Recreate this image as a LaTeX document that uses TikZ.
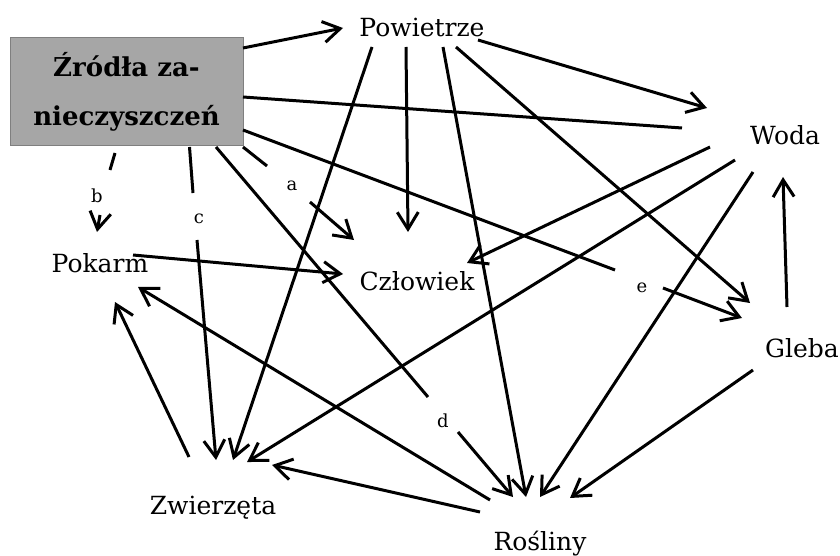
\documentclass[tikz,border=0pt]{standalone}
\usepackage{fontspec}
\setmainfont{DejaVu Serif}
\usetikzlibrary{arrows.meta,calc}
\definecolor{boxfill}{HTML}{A6A6A6}
\definecolor{boxborder}{HTML}{7F7F7F}
\begin{document}
\begin{tikzpicture}[x=1pt,y=-1pt,
  lab/.style={inner sep=0pt, anchor=base, font=\fontsize{25}{30}\selectfont},
  small/.style={inner sep=0pt, anchor=base, font=\fontsize{18}{20}\selectfont},
  conn/.style={line width=3pt},
  arr/.style={conn, -{Straight Barb[length=17pt,width=21pt]}}
]
\useasboundingbox (0,0) rectangle (840,556);
\node[draw=boxborder, fill=boxfill, line width=1pt, minimum width=233pt, minimum height=108pt,
  inner sep=0pt, align=center, font=\bfseries\fontsize{26}{49}\selectfont] (src) at (126.5,92) {Źródła za-\\nieczyszczeń};
\node[lab] (pw) at (422,37) {Powietrze};
\node[lab] (wo) at (785,145) {Woda};
\node[lab] (gl) at (802,357) {Gleba};
\node[lab] (ro) at (540,550) {Rośliny};
\node[lab] (zw) at (213,514) {Zwierzęta};
\node[lab] (po) at (100,272) {Pokarm};
\node[lab] (cz) at (417,290) {Człowiek};
\node[small] (la) at (292,190) {a};
\node[small] (lb) at (97,202) {b};
\node[small] (lc) at (199,223) {c};
\node[small] (ld) at (443,427) {d};
\node[small] (le) at (642,292) {e};
% from source
\draw[arr] ($(src.center)+(116.5,-44)$) -- ($(pw.base)+(-79,-9)$);
\draw[conn] ($(src.center)+(116.5,5)$) -- ($(wo.base)+(-103,-17)$);
\draw[conn] ($(src.center)+(116.5,38)$) -- ($(le.base)+(-27,-22)$);
\draw[arr] ($(le.base)+(21,-4)$) -- ($(gl.base)+(-60,-39)$);
\draw[conn] ($(src.center)+(116.5,55)$) -- ($(la.base)+(-25,-24)$);
\draw[arr] ($(la.base)+(18,12)$) -- ($(cz.base)+(-63,-50)$);
\draw[conn] ($(src.center)+(89.5,55)$) -- ($(ld.base)+(-15,-30)$);
\draw[arr] ($(ld.base)+(15,5)$) -- ($(ro.base)+(-27,-53)$);
\draw[conn] ($(src.center)+(63,55)$) -- ($(lc.base)+(-6,-30)$);
\draw[arr] ($(lc.base)+(-2,17)$) -- ($(zw.base)+(3,-54)$);
\draw[conn] ($(src.center)+(-11.5,61)$) -- ($(lb.base)+(13,-32)$);
\draw[arr] ($(lb.base)+(3,13)$) -- ($(po.base)+(-3,-40)$);
% from Powietrze
\draw[arr] ($(pw.base)+(56,3)$) -- ($(wo.base)+(-78,-37)$);
\draw[arr] ($(pw.base)+(-16,10)$) -- ($(cz.base)+(-9,-58)$);
\draw[arr] ($(pw.base)+(-50,10)$) -- ($(zw.base)+(20,-54)$);
\draw[arr] ($(pw.base)+(21,10)$) -- ($(ro.base)+(-14,-53)$);
\draw[arr] ($(pw.base)+(34,10)$) -- ($(gl.base)+(-52,-54)$);
% from Woda
\draw[arr] ($(wo.base)+(-75,2)$) -- ($(cz.base)+(50,-27)$);
\draw[arr] ($(wo.base)+(-50,15)$) -- ($(zw.base)+(34,-52)$);
\draw[arr] ($(wo.base)+(-32,27)$) -- ($(ro.base)+(0,-53)$);
% from Gleba
\draw[arr] ($(gl.base)+(-15,-50)$) -- ($(wo.base)+(-2,32)$);
\draw[arr] ($(gl.base)+(-49,13)$) -- ($(ro.base)+(30,-52)$);
% others
\draw[arr] ($(po.base)+(33,-17)$) -- ($(cz.base)+(-74,-16)$);
\draw[arr] ($(zw.base)+(-24,-57)$) -- ($(po.base)+(15,30)$);
\draw[arr] ($(ro.base)+(-50,-50)$) -- ($(po.base)+(38,15)$);
\draw[arr] ($(ro.base)+(-60,-38)$) -- ($(zw.base)+(59,-49)$);
\end{tikzpicture}
\end{document}
